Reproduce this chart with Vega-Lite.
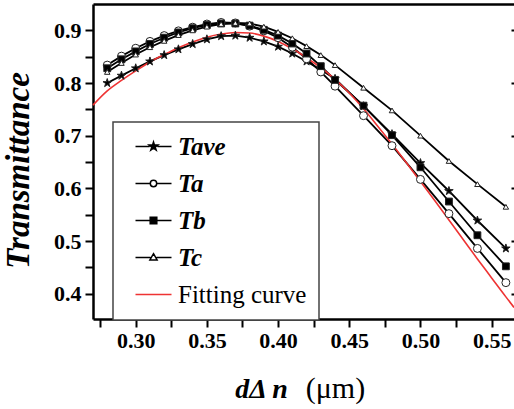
{
  "$schema": "https://vega.github.io/schema/vega-lite/v6.json",
  "width": 421,
  "height": 315,
  "autosize": {"type": "none"},
  "padding": {"left": 93, "top": 4, "right": 0, "bottom": 90},
  "background": "white",
  "config": {
    "view": {"stroke": null},
    "font": "Liberation Serif",
    "axis": {"grid": false, "labelFont": "Liberation Serif", "titleFont": "Liberation Serif", "labelColor": "black", "titleColor": "black", "domainColor": "black", "tickColor": "black"}
  },
  "datasets": {
    "meas": [
      {"s": "Tave", "x": 0.28, "t": 0.800}, {"s": "Tave", "x": 0.29, "t": 0.814}, {"s": "Tave", "x": 0.30, "t": 0.828}, {"s": "Tave", "x": 0.31, "t": 0.841},
      {"s": "Tave", "x": 0.32, "t": 0.853}, {"s": "Tave", "x": 0.33, "t": 0.864}, {"s": "Tave", "x": 0.34, "t": 0.874}, {"s": "Tave", "x": 0.35, "t": 0.883},
      {"s": "Tave", "x": 0.36, "t": 0.889}, {"s": "Tave", "x": 0.37, "t": 0.890}, {"s": "Tave", "x": 0.38, "t": 0.886}, {"s": "Tave", "x": 0.39, "t": 0.879},
      {"s": "Tave", "x": 0.40, "t": 0.869}, {"s": "Tave", "x": 0.41, "t": 0.856}, {"s": "Tave", "x": 0.42, "t": 0.841}, {"s": "Tave", "x": 0.43, "t": 0.825},
      {"s": "Tave", "x": 0.44, "t": 0.808}, {"s": "Tave", "x": 0.46, "t": 0.756}, {"s": "Tave", "x": 0.48, "t": 0.703}, {"s": "Tave", "x": 0.50, "t": 0.648},
      {"s": "Tave", "x": 0.52, "t": 0.595}, {"s": "Tave", "x": 0.54, "t": 0.539}, {"s": "Tave", "x": 0.56, "t": 0.486},
      {"s": "Ta", "x": 0.28, "t": 0.834}, {"s": "Ta", "x": 0.29, "t": 0.851}, {"s": "Ta", "x": 0.30, "t": 0.866}, {"s": "Ta", "x": 0.31, "t": 0.879},
      {"s": "Ta", "x": 0.32, "t": 0.890}, {"s": "Ta", "x": 0.33, "t": 0.899}, {"s": "Ta", "x": 0.34, "t": 0.906}, {"s": "Ta", "x": 0.35, "t": 0.912},
      {"s": "Ta", "x": 0.36, "t": 0.915}, {"s": "Ta", "x": 0.37, "t": 0.914}, {"s": "Ta", "x": 0.38, "t": 0.908}, {"s": "Ta", "x": 0.39, "t": 0.899},
      {"s": "Ta", "x": 0.40, "t": 0.886}, {"s": "Ta", "x": 0.41, "t": 0.868}, {"s": "Ta", "x": 0.42, "t": 0.846}, {"s": "Ta", "x": 0.43, "t": 0.821},
      {"s": "Ta", "x": 0.44, "t": 0.794}, {"s": "Ta", "x": 0.46, "t": 0.738}, {"s": "Ta", "x": 0.48, "t": 0.681}, {"s": "Ta", "x": 0.50, "t": 0.617},
      {"s": "Ta", "x": 0.52, "t": 0.552}, {"s": "Ta", "x": 0.54, "t": 0.486}, {"s": "Ta", "x": 0.56, "t": 0.421},
      {"s": "Tb", "x": 0.28, "t": 0.828}, {"s": "Tb", "x": 0.29, "t": 0.845}, {"s": "Tb", "x": 0.30, "t": 0.860}, {"s": "Tb", "x": 0.31, "t": 0.874},
      {"s": "Tb", "x": 0.32, "t": 0.886}, {"s": "Tb", "x": 0.33, "t": 0.896}, {"s": "Tb", "x": 0.34, "t": 0.904}, {"s": "Tb", "x": 0.35, "t": 0.910},
      {"s": "Tb", "x": 0.36, "t": 0.913}, {"s": "Tb", "x": 0.37, "t": 0.913}, {"s": "Tb", "x": 0.38, "t": 0.909}, {"s": "Tb", "x": 0.39, "t": 0.901},
      {"s": "Tb", "x": 0.40, "t": 0.890}, {"s": "Tb", "x": 0.41, "t": 0.875}, {"s": "Tb", "x": 0.42, "t": 0.856}, {"s": "Tb", "x": 0.43, "t": 0.832},
      {"s": "Tb", "x": 0.44, "t": 0.806}, {"s": "Tb", "x": 0.46, "t": 0.757}, {"s": "Tb", "x": 0.48, "t": 0.701}, {"s": "Tb", "x": 0.50, "t": 0.640},
      {"s": "Tb", "x": 0.52, "t": 0.575}, {"s": "Tb", "x": 0.54, "t": 0.511}, {"s": "Tb", "x": 0.56, "t": 0.452},
      {"s": "Tc", "x": 0.28, "t": 0.821}, {"s": "Tc", "x": 0.29, "t": 0.838}, {"s": "Tc", "x": 0.30, "t": 0.854}, {"s": "Tc", "x": 0.31, "t": 0.868},
      {"s": "Tc", "x": 0.32, "t": 0.880}, {"s": "Tc", "x": 0.33, "t": 0.891}, {"s": "Tc", "x": 0.34, "t": 0.900}, {"s": "Tc", "x": 0.35, "t": 0.907},
      {"s": "Tc", "x": 0.36, "t": 0.912}, {"s": "Tc", "x": 0.37, "t": 0.914}, {"s": "Tc", "x": 0.38, "t": 0.913}, {"s": "Tc", "x": 0.39, "t": 0.907},
      {"s": "Tc", "x": 0.40, "t": 0.897}, {"s": "Tc", "x": 0.41, "t": 0.885}, {"s": "Tc", "x": 0.42, "t": 0.870}, {"s": "Tc", "x": 0.43, "t": 0.853},
      {"s": "Tc", "x": 0.44, "t": 0.834}, {"s": "Tc", "x": 0.46, "t": 0.791}, {"s": "Tc", "x": 0.48, "t": 0.748}, {"s": "Tc", "x": 0.50, "t": 0.700},
      {"s": "Tc", "x": 0.52, "t": 0.652}, {"s": "Tc", "x": 0.54, "t": 0.608}, {"s": "Tc", "x": 0.56, "t": 0.565}
    ],
    "fit": [
      {"s": "Fitting curve", "x": 0.27, "t": 0.758}, {"s": "Fitting curve", "x": 0.28, "t": 0.785}, {"s": "Fitting curve", "x": 0.29, "t": 0.805},
      {"s": "Fitting curve", "x": 0.30, "t": 0.823}, {"s": "Fitting curve", "x": 0.31, "t": 0.840}, {"s": "Fitting curve", "x": 0.32, "t": 0.854},
      {"s": "Fitting curve", "x": 0.33, "t": 0.867}, {"s": "Fitting curve", "x": 0.34, "t": 0.878}, {"s": "Fitting curve", "x": 0.35, "t": 0.887},
      {"s": "Fitting curve", "x": 0.36, "t": 0.893}, {"s": "Fitting curve", "x": 0.37, "t": 0.896}, {"s": "Fitting curve", "x": 0.38, "t": 0.895},
      {"s": "Fitting curve", "x": 0.39, "t": 0.889}, {"s": "Fitting curve", "x": 0.40, "t": 0.879}, {"s": "Fitting curve", "x": 0.41, "t": 0.865},
      {"s": "Fitting curve", "x": 0.42, "t": 0.848}, {"s": "Fitting curve", "x": 0.43, "t": 0.829}, {"s": "Fitting curve", "x": 0.44, "t": 0.807},
      {"s": "Fitting curve", "x": 0.45, "t": 0.781}, {"s": "Fitting curve", "x": 0.46, "t": 0.751}, {"s": "Fitting curve", "x": 0.47, "t": 0.718},
      {"s": "Fitting curve", "x": 0.48, "t": 0.684}, {"s": "Fitting curve", "x": 0.49, "t": 0.649}, {"s": "Fitting curve", "x": 0.50, "t": 0.613},
      {"s": "Fitting curve", "x": 0.51, "t": 0.577}, {"s": "Fitting curve", "x": 0.52, "t": 0.540}, {"s": "Fitting curve", "x": 0.53, "t": 0.503},
      {"s": "Fitting curve", "x": 0.54, "t": 0.466}, {"s": "Fitting curve", "x": 0.55, "t": 0.430}, {"s": "Fitting curve", "x": 0.56, "t": 0.394},
      {"s": "Fitting curve", "x": 0.5657, "t": 0.374}
    ]
  },
  "layer": [
    {
      "data": {"name": "meas"},
      "mark": {"type": "line", "strokeWidth": 1.8},
      "encoding": {
        "x": {
          "field": "x", "type": "quantitative",
          "scale": {"domain": [0.27, 0.5657], "nice": false, "zero": false},
          "axis": {
            "orient": "bottom",
            "values": [0.275, 0.3, 0.325, 0.35, 0.375, 0.4, 0.425, 0.45, 0.475, 0.5, 0.525, 0.55],
            "labelExpr": "round(datum.value*40) % 2 ? '' : format(datum.value, '.2f')",
            "labelFontSize": 22, "labelFontWeight": "bold", "labelPadding": 3, "labelOverlap": false, "labelFlush": false,
            "tickSize": 8, "tickWidth": 2, "domainWidth": 2.5,
            "title": "dΔ n", "titleFontSize": 28, "titleFontWeight": "bold", "titleFontStyle": "italic",
            "titleX": 168, "titleY": 78, "titleBaseline": "alphabetic",
            "encode": {"ticks": {"update": {"y2": {"signal": "round(datum.value*40) % 2 ? 5 : 8"}}}}
          }
        },
        "y": {
          "field": "t", "type": "quantitative",
          "scale": {"domain": [0.352, 0.95], "nice": false, "zero": false},
          "axis": {
            "orient": "left",
            "values": [0.4, 0.45, 0.5, 0.55, 0.6, 0.65, 0.7, 0.75, 0.8, 0.85, 0.9],
            "labelExpr": "round(datum.value*20) % 2 ? '' : format(datum.value, '.1f')",
            "labelFontSize": 22, "labelFontWeight": "bold", "labelPadding": 4, "labelOverlap": false, "labelFlush": false,
            "tickSize": 8, "tickWidth": 2, "domainWidth": 2.5,
            "title": "Transmittance", "titleFontSize": 33, "titleFontWeight": "bold", "titleFontStyle": "italic", "titlePadding": 18,
            "titleY": 166,
            "encode": {"ticks": {"update": {"x2": {"signal": "round(datum.value*20) % 2 ? -5 : -8"}}}}
          }
        },
        "stroke": {
          "field": "s", "type": "nominal",
          "scale": {"domain": ["Tave", "Ta", "Tb", "Tc", "Fitting curve"], "range": ["black", "black", "black", "black", "#ee3333"]},
          "legend": {
            "title": null, "orient": "none", "legendX": 20, "legendY": 118,
            "padding": 12, "rowPadding": 11, "symbolSize": 400, "symbolOffset": 16, "labelOffset": 12,
            "strokeColor": "#444", "fillColor": "white", "symbolStrokeWidth": 1.5, "symbolOpacity": 1,
            "labelFont": "Liberation Serif", "labelFontSize": 25, "labelColor": "black", "labelLimit": 0, "labelBaseline": "middle",
            "encode": {
              "legend": {"update": {"strokeWidth": {"value": 1.5}}},
              "symbols": {"update": {
                "shape": {"signal": "datum.value === 'Tave' ? 'M-1.8,0H-0.4M0.4,0H1.8M0,-0.45L0.101,-0.139L0.428,-0.139L0.164,0.053L0.265,0.364L0,0.172L-0.265,0.364L-0.164,0.053L-0.428,-0.139L-0.101,-0.139Z' : datum.value === 'Ta' ? 'M-1.8,0H-0.32M0.32,0H1.8M0.32,0A0.32,0.32,0,1,1,-0.32,0A0.32,0.32,0,1,1,0.32,0Z' : datum.value === 'Tb' ? 'M-1.8,0H-0.33M0.33,0H1.8M-0.33,-0.33H0.33V0.33H-0.33Z' : datum.value === 'Tc' ? 'M-1.8,0H-0.3M0.3,0H1.8M0,-0.38L0.36,0.24H-0.36Z' : 'M-1.8,0H1.8'"},
                "fill": {"signal": "datum.value === 'Tave' || datum.value === 'Tb' ? 'black' : datum.value === 'Fitting curve' ? 'transparent' : 'white'"},
                "stroke": {"signal": "datum.value === 'Fitting curve' ? '#ee3333' : 'black'"},
                "strokeWidth": {"value": 1.5},
                "opacity": {"value": 1}
              }},
              "labels": {"update": {
                "fontStyle": {"signal": "datum.value === 'Fitting curve' ? 'normal' : 'italic'"},
                "fontWeight": {"signal": "datum.value === 'Fitting curve' ? 'normal' : 'bold'"}
              }}
            }
          }
        }
      }
    },
    {
      "data": {"name": "fit"},
      "mark": {"type": "line", "strokeWidth": 1.6, "interpolate": "monotone"},
      "encoding": {
        "x": {
          "field": "x", "type": "quantitative",
          "axis": {
            "orient": "bottom",
            "labels": false, "ticks": false, "domain": false, "grid": false,
            "title": "(μm)", "titleFontSize": 30, "titleFontWeight": "normal", "titleFontStyle": "normal",
            "titleX": 242, "titleY": 78, "titleBaseline": "alphabetic"
          }
        },
        "y": {"field": "t", "type": "quantitative", "axis": null},
        "stroke": {"field": "s", "type": "nominal"}
      }
    },
    {
      "data": {"name": "meas"},
      "mark": {"type": "point", "filled": true, "stroke": "#222", "strokeWidth": 1, "opacity": 1},
      "encoding": {
        "x": {
          "field": "x", "type": "quantitative",
          "axis": {"orient": "top", "domain": true, "domainWidth": 2.5, "domainColor": "black", "ticks": false, "labels": false, "title": null, "grid": false}
        },
        "y": {
          "field": "t", "type": "quantitative",
          "axis": {"orient": "right", "values": [0.4, 0.5, 0.6, 0.7, 0.8, 0.9], "labels": false, "domain": false, "tickSize": -3, "tickWidth": 2, "title": null, "grid": false}
        },
        "shape": {
          "field": "s", "type": "nominal",
          "scale": {"domain": ["Tave", "Ta", "Tb", "Tc"], "range": ["M0,-1L0.2245,-0.309L0.951,-0.309L0.363,0.118L0.588,0.809L0,0.382L-0.588,0.809L-0.363,0.118L-0.951,-0.309L-0.2245,-0.309Z", "circle", "square", "triangle-up"]},
          "legend": null
        },
        "fill": {
          "field": "s", "type": "nominal",
          "scale": {"domain": ["Tave", "Ta", "Tb", "Tc"], "range": ["black", "white", "black", "white"]},
          "legend": null
        },
        "size": {
          "field": "s", "type": "ordinal",
          "scale": {"domain": ["Tave", "Ta", "Tb", "Tc"], "range": [80, 30, 40, 35]},
          "legend": null
        }
      }
    }
  ],
  "resolve": {"axis": {"x": "independent", "y": "independent"}}
}
